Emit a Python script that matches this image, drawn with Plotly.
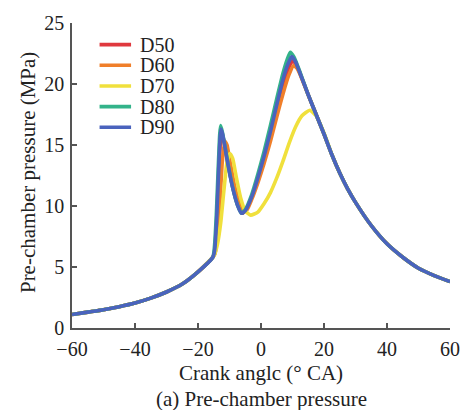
import plotly.graph_objects as go

# ---- data ----
names = ["D50", "D60", "D70", "D80", "D90"]
colors = ["#e0393e", "#f07f2a", "#f0e03c", "#33b38a", "#4a63bd"]

# shared compression part
x_comp = [-60, -55, -50, -45, -40, -35, -30, -25, -20, -15.3]
p_comp = [1.1, 1.3, 1.5, 1.75, 2.05, 2.45, 2.95, 3.6, 4.6, 5.8]

# shared expansion tail
x_exp = [22.5, 25, 27.5, 30, 35, 40, 45, 50, 55, 60]
p_exp = [14.2, 12.7, 11.4, 10.3, 8.4, 6.9, 5.8, 4.9, 4.3, 3.8]

# combustion parts per series
x_d50 = [-14.6, -14.0, -13.4, -12.9, -12.4, -11.6, -10.5, -9.0, -7.5, -6.0, -4.8, -3, -1, 1, 3, 5, 7, 8.6, 10.0, 11.2, 12.5, 15, 17.5, 20]
p_d50 = [6.3, 8.5, 12.5, 15.2, 16.0, 15.1, 13.5, 11.6, 10.2, 9.4, 9.7, 10.7, 12.2, 13.9, 15.8, 17.9, 19.9, 21.2, 21.9, 21.6, 20.8, 19.1, 17.5, 15.9]

x_d60 = [-14.6, -13.8, -13.0, -12.3, -11.5, -10.8, -9.8, -8.5, -7.0, -5.6, -4.4, -3, -1, 1, 3, 5, 7, 8.8, 10.3, 11.4, 12.7, 15, 17.5, 20]
p_d60 = [6.1, 7.6, 10.5, 13.6, 15.3, 15.0, 13.6, 11.8, 10.3, 9.5, 9.7, 10.5, 11.9, 13.5, 15.3, 17.3, 19.2, 20.7, 21.5, 21.3, 20.6, 19.1, 17.5, 15.9]

x_d70 = [-14.8, -13.8, -12.8, -11.8, -10.8, -9.9, -9.0, -7.8, -6.5, -5.0, -3.3, -1, 1, 3, 5, 7, 9, 11, 13, 15.5, 17.5, 19, 21]
p_d70 = [6.0, 6.9, 8.6, 11.2, 13.6, 14.3, 13.9, 12.3, 10.7, 9.6, 9.25, 9.5, 10.2, 11.1, 12.3, 13.7, 15.2, 16.5, 17.4, 17.85, 17.4, 16.6, 15.3]

x_d80 = [-14.8, -14.2, -13.6, -13.1, -12.8, -12.3, -11.5, -10.5, -9.0, -7.5, -6.2, -5.0, -3, -1, 1, 3, 5, 7, 8.3, 9.3, 10.5, 12.5, 15, 17.5, 20]
p_d80 = [6.6, 9.2, 13.0, 15.9, 16.6, 16.1, 15.0, 13.5, 11.5, 10.1, 9.4, 9.7, 10.9, 12.6, 14.5, 16.6, 18.8, 20.9, 22.0, 22.6, 22.2, 20.9, 19.1, 17.5, 15.9]

x_d90 = [-14.7, -14.1, -13.5, -13.0, -12.7, -12.2, -11.5, -10.5, -9.0, -7.5, -6.2, -5.0, -3, -1, 1, 3, 5, 7, 8.5, 9.8, 11.0, 12.5, 15, 17.5, 20]
p_d90 = [6.4, 8.8, 12.6, 15.6, 16.3, 15.9, 14.9, 13.4, 11.5, 10.1, 9.4, 9.6, 10.7, 12.3, 14.1, 16.1, 18.3, 20.4, 21.6, 22.25, 21.8, 20.8, 19.1, 17.5, 15.9]

series_x = [x_d50, x_d60, x_d70, x_d80, x_d90]
series_p = [p_d50, p_d60, p_d70, p_d80, p_d90]

x_ticks = [-60, -40, -20, 0, 20, 40, 60]
x_ticktext = ["\u221260", "\u221240", "\u221220", "0", "20", "40", "60"]
y_ticks = [0, 5, 10, 15, 20, 25]

FONT = "Liberation Serif"
AX = "#555555"
TXT = "#222222"
FS = 20

# plot area in pixels (for placing the hand-made legend and titles)
L, R, T, B = 72, 16, 18, 82
W, H = 472, 410
PW, PH = W - L - R, H - T - B

fig = go.Figure()
for name, col, xs, ps in zip(names, colors, series_x, series_p):
    fig.add_trace(go.Scatter(
        x=x_comp + xs + x_exp, y=p_comp + ps + p_exp,
        mode="lines", name=name, showlegend=False,
        line=dict(color=col, width=3.6, shape="spline", smoothing=0.5),
    ))

fig.update_layout(
    width=W, height=H,
    margin=dict(l=L, r=R, t=T, b=B),
    paper_bgcolor="white", plot_bgcolor="white",
    font=dict(family=FONT, size=FS, color=TXT),
    xaxis=dict(range=[-60, 60], tickvals=x_ticks, ticktext=x_ticktext,
               showgrid=False, zeroline=False, showline=True, linecolor=AX, linewidth=1.5,
               ticks="inside", ticklen=5, tickcolor=AX, tickwidth=1.5,
               tickfont=dict(family=FONT, size=FS, color=TXT), ticklabelstandoff=2),
    yaxis=dict(range=[0, 25], tickvals=y_ticks,
               showgrid=False, zeroline=False, showline=True, linecolor=AX, linewidth=1.5,
               ticks="inside", ticklen=5, tickcolor=AX, tickwidth=1.5,
               tickfont=dict(family=FONT, size=FS, color=TXT), ticklabelstandoff=2),
)

# axis titles and caption
fig.add_annotation(text="Crank anglc (\u00b0 CA)", xref="paper", yref="paper",
                   x=0.5, y=0, yshift=-45, xanchor="center", yanchor="middle", showarrow=False,
                   font=dict(family=FONT, size=21, color=TXT))
fig.add_annotation(text="(a) Pre-chamber pressure", xref="paper", yref="paper",
                   x=0.5, y=0, yshift=-71, xanchor="center", yanchor="middle", showarrow=False,
                   font=dict(family=FONT, size=21, color=TXT))
fig.add_annotation(text="Pre-chamber pressure (MPa)", xref="paper", yref="paper",
                   x=0, y=(H - B - 170) / PH, xshift=27.5 - L, xanchor="center", yanchor="middle",
                   textangle=-90, showarrow=False, font=dict(family=FONT, size=21, color=TXT))

# hand-made legend (tight row spacing as in the reference)
row_y = [40, 61, 82, 103, 124]
for name, col, py in zip(names, colors, row_y):
    yp = (H - B - py) / PH
    fig.add_shape(type="line", xref="paper", yref="paper",
                  x0=(100 - L) / PW, x1=(132 - L) / PW, y0=yp, y1=yp,
                  line=dict(color=col, width=3.6))
    fig.add_annotation(text=name, xref="paper", yref="paper",
                       x=(139 - L) / PW, y=yp, xanchor="left", yanchor="middle",
                       showarrow=False, font=dict(family=FONT, size=20, color=TXT))

fig.write_html("out.html")
